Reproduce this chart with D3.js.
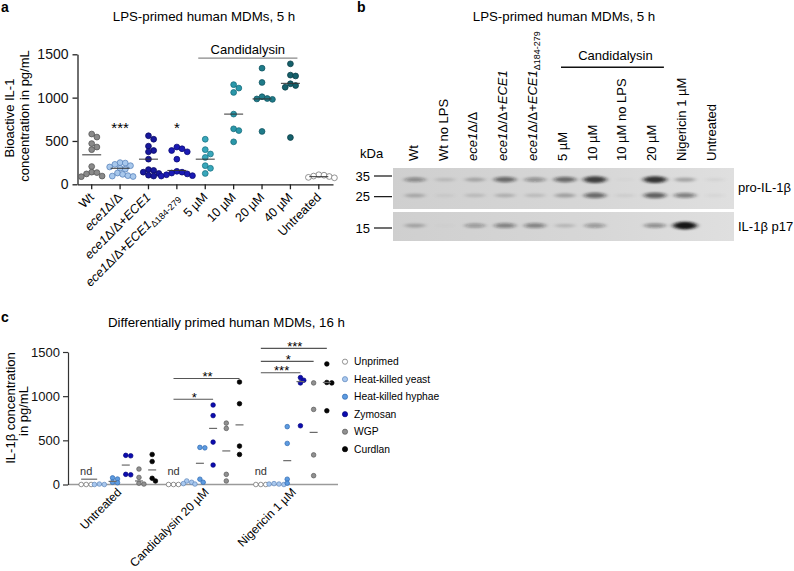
<!DOCTYPE html>
<html><head><meta charset="utf-8">
<script src="https://cdnjs.cloudflare.com/ajax/libs/d3/7.8.5/d3.min.js"></script>
<style>
body{margin:0;background:#fff;}
svg{font-family:"Liberation Sans", Arial, Helvetica, sans-serif;}
</style></head><body><svg id="chart" width="794" height="571"></svg>
<script>
// ---------- Panel a data ----------
const catsA = ["Wt","ece1Δ/Δ","ece1Δ/Δ+ECE1","ece1Δ/Δ+ECE1Δ184-279","5 µM","10 µM","20 µM","40 µM","Untreated"];
const wtA      = [580, 545, 470, 430, 400, 205, 140, 135, 120, 95, 88];
const ece1A    = [250, 245, 230, 215, 200, 185, 175, 130, 115, 100, 95, 90];
const ece1ReA  = [560, 520, 440, 390, 375, 290, 170, 160, 140, 125, 105, 95];
const ece1DelA = [430, 410, 390, 375, 290, 150, 140, 130, 120, 110, 100, 95];
const cand5A   = [520, 400, 350, 310, 215, 185, 125];
const cand10A  = [1150, 1110, 1060, 810, 640, 620, 490];
const cand20A  = [1340, 1175, 1010, 990, 985, 980, 610];
const cand40A  = [1390, 1260, 1250, 1160, 1140, 1120, 540];
const untrA    = [110, 105, 95, 90, 80, 75];
const mediansA = [340, 185, 290, 160, 290, 810, 985, 1165, 88];
const ticksA   = [0, 500, 1000, 1500];
const sigCatsA = [1, 3];
const sigLabelsA = ["***", "*"];

// ---------- Panel b data ----------
const lanesB = ["Wt","Wt no LPS","ece1Δ/Δ","ece1Δ/Δ+ECE1","ece1Δ/Δ+ECE1Δ184-279","5 µM","10 µM","10 µM no LPS","20 µM","Nigericin 1 µM","Untreated"];
const markersB = [35, 25, 15];
const proUpperB = [0.38, 0.12, 0.22, 0.55, 0.35, 0.55, 0.8, 0.02, 0.85, 0.25, 0.05];
const proLowerB = [0.2, 0.05, 0.12, 0.18, 0.12, 0.25, 0.55, 0.06, 0.6, 0.45, 0.04];
const p17B      = [0.22, 0.02, 0.3, 0.42, 0.42, 0.15, 0.32, 0.0, 0.38, 1.0, 0.0];

// ---------- Panel c data ----------
const groupsC = ["Untreated", "Candidalysin 20 µM", "Nigericin 1 µM"];
const primingC = ["Unprimed", "Heat-killed yeast", "Heat-killed hyphae", "Zymosan", "WGP", "Curdlan"];
const unprimedC = [[0,0,0],[0,0,0],[0,0,0]];
const hkYeastC  = [[5,0,0],[40,25,10,5],[10,5,5,0]];
const hkHyphaeC = [[75,62,25,20],[420,415,60,25],[655,465,60,15]];
const zymosanC  = [[330,325,115,110],[900,780,480,220],[1210,1180,1150,665]];
const wgpC      = [[175,80,15,5],[695,635,115,40],[1150,850,335,100]];
const curdlanC  = [[340,260,70,40],[1160,915,435,340],[1365,1155,1150,835]];
const mediansC  = [[60,null,null],[null,null,null],[35,240,270],[220,635,1165],[40,380,590],[165,675,1155]];
const ticksC = [0, 500, 1000, 1500];
const sigGroupC = [1, 1, 2, 2, 2];
const sigToC    = [3, 5, 3, 4, 5];
const sigLevelC = [965, 1200, 1265, 1395, 1540];
const sigLabelC = ["*", "**", "***", "*", "***"];

// ---------- helpers ----------
const svg = d3.select("#chart");

function rich(textSel, s, subSize, subDy) {
  const parts = s.split(/(ece1|ECE1|Δ184-279)/).filter(d => d);
  parts.forEach(p => {
    const ts = textSel.append("tspan").text(p);
    if (p === "ece1" || p === "ECE1") ts.style("font-style", "italic");
    if (p === "Δ184-279") ts.attr("font-size", subSize).attr("dy", subDy);
  });
}
function swarm(vals, y, cx, minDist, step) {
  const placed = [];
  vals.slice().sort((a, b) => b - a).forEach(v => {
    const yy = y(v);
    for (let k = 0; k < 60; k++) {
      const m = Math.ceil(k / 2) * (k % 2 === 1 ? 1 : -1);
      const xx = cx + m * step;
      if (placed.every(p => (p.x - xx) ** 2 + (p.y - yy) ** 2 >= minDist * minDist)) {
        placed.push({x: xx, y: yy, v}); break;
      }
    }
  });
  return placed;
}

// ========== Panel a ==========
const gA = svg.append("g");
gA.append("text").attr("x", 1).attr("y", 12).attr("font-size", 14).attr("font-weight", "bold").text("a");
gA.append("text").attr("x", 204).attr("y", 20.5).attr("text-anchor", "middle").attr("font-size", 13.3).text("LPS-primed human MDMs, 5 h");

const xA = d3.scaleBand().domain(d3.range(catsA.length)).range([77.5, 333]);
const yA = d3.scaleLinear().domain([0, 1500]).range([184.3, 54.3]);

const axYA = gA.append("g").attr("transform", "translate(77.5,0)")
  .call(d3.axisLeft(yA).tickValues(ticksA).tickFormat(d3.format("d")).tickSize(5).tickSizeOuter(0).tickPadding(4));
axYA.selectAll("text").attr("font-size", 14).attr("font-family", null).attr("fill", "#111");
axYA.selectAll("path,line").attr("stroke", "#222").attr("stroke-width", 1.3);

const axXA = gA.append("g").attr("transform", "translate(0,184.3)")
  .call(d3.axisBottom(xA).tickSize(5).tickSizeOuter(0).tickFormat(""));
axXA.selectAll("path,line").attr("stroke", "#222").attr("stroke-width", 1.3);

catsA.forEach((c, i) => {
  const x = xA(i) + xA.bandwidth() / 2 + 3, y = 198;
  const t = gA.append("text").attr("x", x).attr("y", y).attr("text-anchor", "end")
    .attr("font-size", 12.5).attr("transform", `rotate(-45,${x},${y})`);
  rich(t, c, 9, 3);
});

gA.append("text").attr("x", 14).attr("y", 118).attr("text-anchor", "middle").attr("font-size", 13)
  .attr("transform", "rotate(-90,14,118)").text("Bioactive IL-1");
gA.append("text").attr("x", 29).attr("y", 116).attr("text-anchor", "middle").attr("font-size", 13)
  .attr("transform", "rotate(-90,29,116)").text("concentration in pg/mL");

const fillA = ["#8a8a8a", "#a8c8ec", "#17179c", "#1a1ab4", "#38a7bb", "#2a97a9", "#1f7b89", "#15606b", "#ffffff"];
const strokeA = ["#555", "#5a84bb", "#0b0b66", "#0c0c78", "#1d7585", "#166c7b", "#135763", "#0c3f47", "#777"];
const seriesA = [wtA, ece1A, ece1ReA, ece1DelA, cand5A, cand10A, cand20A, cand40A, untrA];
seriesA.forEach((vals, i) => {
  const cx = xA(i) + xA.bandwidth() / 2;
  const pts = swarm(vals, yA, cx, 5.2, 2.6);
  gA.append("g").selectAll("circle").data(pts).join("circle")
    .attr("cx", d => d.x).attr("cy", d => d.y).attr("r", 2.9)
    .attr("fill", fillA[i]).attr("stroke", strokeA[i]).attr("stroke-width", 0.8);
  gA.append("line").attr("x1", cx - 9.5).attr("x2", cx + 9.5)
    .attr("y1", yA(mediansA[i])).attr("y2", yA(mediansA[i]))
    .attr("stroke", "#333").attr("stroke-width", 1);
});
sigCatsA.forEach((c, j) => {
  const cx = xA(c) + xA.bandwidth() / 2;
  gA.append("text").attr("x", cx).attr("y", yA(700) + 9).attr("text-anchor", "middle")
    .attr("font-size", 15).text(sigLabelsA[j]);
});
// Candidalysin bracket (categories 4..7)
{
  const x1 = xA(4) + xA.bandwidth() / 2 - 7, x2 = xA(7) + xA.bandwidth() / 2 + 7;
  gA.append("line").attr("x1", x1).attr("x2", x2).attr("y1", yA(1455)).attr("y2", yA(1455))
    .attr("stroke", "#888").attr("stroke-width", 1.3);
  gA.append("text").attr("x", (x1 + x2) / 2).attr("y", 54).attr("text-anchor", "middle")
    .attr("font-size", 13).text("Candidalysin");
}

// ========== Panel b ==========
const gB = svg.append("g");
gB.append("text").attr("x", 357).attr("y", 12).attr("font-size", 14).attr("font-weight", "bold").text("b");
gB.append("text").attr("x", 564).attr("y", 20.5).attr("text-anchor", "middle").attr("font-size", 13.3).text("LPS-primed human MDMs, 5 h");

const laneX = d3.scalePoint().domain(d3.range(lanesB.length)).range([413, 711]);
const bandX = d3.scalePoint().domain(d3.range(lanesB.length)).range([415, 715]);
const yMW = d3.scaleLog().domain([35, 15]).range([176, 228]);

lanesB.forEach((l, i) => {
  const x = laneX(i) + 4.7, y = 161;
  const t = gB.append("text").attr("x", x).attr("y", y).attr("text-anchor", "start")
    .attr("font-size", 13).attr("transform", `rotate(-90,${x},${y})`);
  rich(t, l, 9, 3);
});
{
  const x1 = laneX(5) - 1, x2 = laneX(8) + 12.5;
  gB.append("line").attr("x1", x1).attr("x2", x2).attr("y1", 67.3).attr("y2", 67.3)
    .attr("stroke", "#111").attr("stroke-width", 1.4);
  gB.append("text").attr("x", (x1 + x2) / 2 + 3).attr("y", 60).attr("text-anchor", "middle")
    .attr("font-size", 13).text("Candidalysin");
}

const defs = svg.append("defs");
const grad = defs.append("linearGradient").attr("id", "blotbg");
grad.append("stop").attr("offset", "0%").attr("stop-color", "#cfcfcf");
grad.append("stop").attr("offset", "60%").attr("stop-color", "#d7d7d7");
grad.append("stop").attr("offset", "100%").attr("stop-color", "#dfdfdf");
defs.append("filter").attr("id", "blur").attr("x", "-50%").attr("y", "-100%").attr("width", "200%").attr("height", "300%")
  .append("feGaussianBlur").attr("stdDeviation", "2.4 1.3");
defs.append("clipPath").attr("id", "clipTop").append("rect").attr("x", 393).attr("y", 168).attr("width", 341).attr("height", 41);
defs.append("clipPath").attr("id", "clipBot").append("rect").attr("x", 393).attr("y", 212).attr("width", 341).attr("height", 29);

gB.append("rect").attr("x", 393).attr("y", 168).attr("width", 341).attr("height", 41).attr("fill", "url(#blotbg)");
gB.append("rect").attr("x", 393).attr("y", 212).attr("width", 341).attr("height", 29).attr("fill", "url(#blotbg)");

const topBands = gB.append("g").attr("clip-path", "url(#clipTop)").append("g").attr("filter", "url(#blur)");
const botBands = gB.append("g").attr("clip-path", "url(#clipBot)").append("g").attr("filter", "url(#blur)");
function bands(g, arr, kDa, rxBase) {
  g.selectAll(null).data(arr).join("ellipse")
    .attr("cx", (d, i) => bandX(i)).attr("cy", yMW(kDa))
    .attr("rx", d => rxBase + 2 * d).attr("ry", d => 1.6 + 2.2 * d)
    .attr("fill", "#151515").attr("opacity", d => Math.min(1, d));
}
bands(topBands, proUpperB, 33, 10);
bands(topBands, proLowerB, 25.5, 10);
bands(botBands, p17B, 15.6, 10);

gB.append("text").attr("x", 360).attr("y", 158).attr("font-size", 13).text("kDa");
markersB.forEach(m => {
  const y = yMW(m);
  gB.append("text").attr("x", 370).attr("y", y + 4.5).attr("text-anchor", "end").attr("font-size", 13).text(m);
  gB.append("line").attr("x1", 374).attr("x2", 392).attr("y1", y).attr("y2", y).attr("stroke", "#111").attr("stroke-width", 1.2);
});
gB.append("text").attr("x", 738).attr("y", 192).attr("font-size", 13).text("pro-IL-1β");
gB.append("text").attr("x", 738).attr("y", 230.5).attr("font-size", 13).text("IL-1β p17");

// ========== Panel c ==========
const gC = svg.append("g");
gC.append("text").attr("x", 1).attr("y", 322).attr("font-size", 14).attr("font-weight", "bold").text("c");
gC.append("text").attr("x", 226.5).attr("y", 327).attr("text-anchor", "middle").attr("font-size", 13.3).text("Differentially primed human MDMs, 16 h");

const yC = d3.scaleLinear().domain([0, 1500]).range([484.5, 352]);
const xG = d3.scaleBand().domain(d3.range(groupsC.length)).range([75.5, 337.5]);
const primStep = 13.2;
const primX = (g, p) => xG(g) + xG.bandwidth() / 2 + (p - 2.5) * primStep;

gC.append("line").attr("x1", 68).attr("x2", 338).attr("y1", 484.5).attr("y2", 484.5)
  .attr("stroke", "#9a9a9a").attr("stroke-width", 1.6);
const axYC = gC.append("g").attr("transform", "translate(68,0)")
  .call(d3.axisLeft(yC).tickValues(ticksC).tickFormat(d3.format("d")).tickSize(5).tickSizeOuter(0).tickPadding(3));
axYC.selectAll("text").attr("font-size", 13).attr("font-family", null).attr("fill", "#111");
axYC.selectAll("path,line").attr("stroke", "#333").attr("stroke-width", 1.2);

groupsC.forEach((g, i) => {
  const x = xG(i) + xG.bandwidth() / 2 + 3, y = 493;
  gC.append("text").attr("x", x).attr("y", y).attr("text-anchor", "end").attr("font-size", 12)
    .attr("transform", `rotate(-45,${x},${y})`).text(g);
});
gC.append("text").attr("x", 15).attr("y", 408).attr("text-anchor", "middle").attr("font-size", 13)
  .attr("transform", "rotate(-90,15,408)").text("IL-1β concentration");
gC.append("text").attr("x", 27.5).attr("y", 411).attr("text-anchor", "middle").attr("font-size", 13)
  .attr("transform", "rotate(-90,27.5,411)").text("in pg/mL");

const fillC = ["#ffffff", "#a9c8ee", "#5d9be0", "#0c0cb0", "#909090", "#050505"];
const strokeC = ["#666", "#5e86bb", "#2f68b0", "#06067a", "#5a5a5a", "#000"];
const seriesC = [unprimedC, hkYeastC, hkHyphaeC, zymosanC, wgpC, curdlanC];
seriesC.forEach((byGroup, p) => {
  byGroup.forEach((vals, g) => {
    const cx = primX(g, p);
    const pts = swarm(vals, yC, cx, 3.6, 1.65);
    gC.append("g").selectAll("circle").data(pts).join("circle")
      .attr("cx", d => d.x).attr("cy", d => d.y).attr("r", 2.3)
      .attr("fill", fillC[p]).attr("stroke", strokeC[p]).attr("stroke-width", 0.7);
    const m = mediansC[p][g];
    if (m !== null) {
      const hw = p === 0 ? 8 : 4;
      gC.append("line").attr("x1", cx - hw + (p === 0 ? 3 : 0)).attr("x2", cx + hw + (p === 0 ? 3 : 0))
        .attr("y1", yC(m)).attr("y2", yC(m)).attr("stroke", "#6a6a6a").attr("stroke-width", 1.2);
    }
  });
});
// nd labels
groupsC.forEach((g, i) => {
  gC.append("text").attr("x", primX(i, 0)).attr("y", 475).attr("text-anchor", "middle")
    .attr("font-size", 11).attr("fill", "#333").text("nd");
});
// significance bars
sigGroupC.forEach((g, j) => {
  const x1 = primX(g, 0), x2 = primX(g, sigToC[j]);
  const y = yC(sigLevelC[j]);
  gC.append("line").attr("x1", x1).attr("x2", x2).attr("y1", y).attr("y2", y)
    .attr("stroke", "#555").attr("stroke-width", 1.2);
  gC.append("text").attr("x", (x1 + x2) / 2 + 1).attr("y", y + 2.4).attr("text-anchor", "middle")
    .attr("font-size", 13).text(sigLabelC[j]);
});
// legend
const lg = gC.append("g");
primingC.forEach((p, i) => {
  const y = 361.7 + i * 17.5;
  lg.append("circle").attr("cx", 345).attr("cy", y).attr("r", 2.6)
    .attr("fill", fillC[i]).attr("stroke", strokeC[i]).attr("stroke-width", 0.7);
  lg.append("text").attr("x", 354).attr("y", y + 3.6).attr("font-size", 10.3).text(p);
});
</script></body></html>
